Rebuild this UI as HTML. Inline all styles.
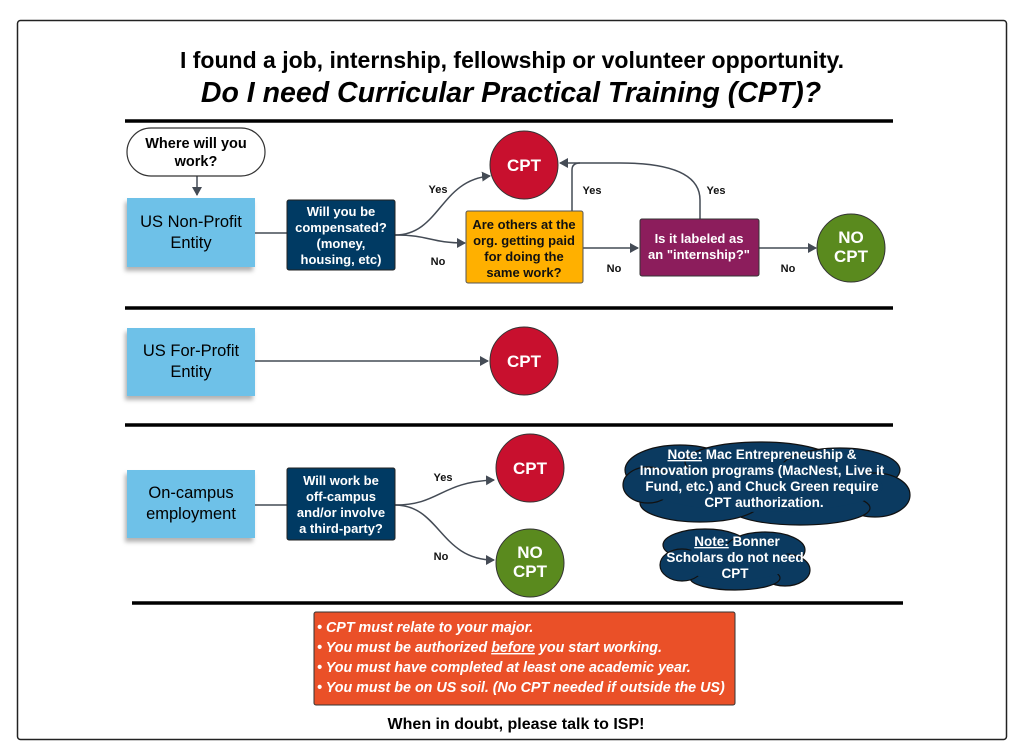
<!DOCTYPE html>
<html><head><meta charset="utf-8"><style>
body{margin:0;background:#fff;}
svg{display:block;font-family:"Liberation Sans",sans-serif;}
.w{fill:#fff;font-weight:bold;font-size:13px;text-anchor:middle;}
.b{fill:#111;font-weight:bold;font-size:11px;text-anchor:middle;}
.o{fill:#111;font-weight:bold;font-size:13px;text-anchor:middle;}
.c{fill:none;stroke:#444b55;stroke-width:1.5;}
</style></head><body>
<svg width="1024" height="756" viewBox="0 0 1024 756">
<defs>
<marker id="a" markerWidth="10" markerHeight="10" refX="8" refY="5" orient="auto" markerUnits="userSpaceOnUse"><path d="M0,0 L9,5 L0,10 z" fill="#444b55"/></marker>
<filter id="s" x="-10%" y="-10%" width="130%" height="140%"><feDropShadow dx="-2" dy="4" stdDeviation="2" flood-opacity="0.3"/></filter>
</defs>
<rect x="17.5" y="20.5" width="989" height="719" rx="3" fill="#fff" stroke="#222" stroke-width="1.5"/>
<text x="512" y="68" text-anchor="middle" font-size="23" font-weight="bold">I found a job, internship, fellowship or volunteer opportunity.</text>
<text x="511" y="102" text-anchor="middle" font-size="28.5" font-weight="bold" font-style="italic">Do I need Curricular Practical Training (CPT)?</text>
<g stroke="#000" stroke-width="3.5">
<line x1="125" y1="121" x2="893" y2="121"/>
<line x1="125" y1="308" x2="893" y2="308"/>
<line x1="125" y1="425" x2="893" y2="425"/>
<line x1="132" y1="603" x2="903" y2="603"/>
</g>
<path class="c" d="M197,176 V195" marker-end="url(#a)"/>
<path class="c" d="M255,233 H287"/>
<path class="c" d="M395,235 C440,235 440,180 490,176" marker-end="url(#a)"/>
<path class="c" d="M395,235 C430,235 430,243 465,243" marker-end="url(#a)"/>
<path class="c" d="M572,211 V170 Q572,163 580,163 H620 Q700,163 700,200 V219"/>
<path class="c" d="M580,163 H560" marker-end="url(#a)"/>
<path class="c" d="M583,248 H638" marker-end="url(#a)"/>
<path class="c" d="M759,248 H816" marker-end="url(#a)"/>
<path class="c" d="M255,361 H488" marker-end="url(#a)"/>
<path class="c" d="M255,505 H287"/>
<path class="c" d="M395,505 C440,505 440,482 494,480" marker-end="url(#a)"/>
<path class="c" d="M395,505 C440,505 440,560 494,560" marker-end="url(#a)"/>
<text class="b" x="438" y="193">Yes</text>
<text class="b" x="438" y="265">No</text>
<text class="b" x="592" y="194">Yes</text>
<text class="b" x="614" y="272">No</text>
<text class="b" x="716" y="194">Yes</text>
<text class="b" x="788" y="272">No</text>
<text class="b" x="443" y="481">Yes</text>
<text class="b" x="441" y="560">No</text>
<rect x="127" y="128" width="138" height="48" rx="24" fill="#fff" stroke="#333" stroke-width="1.2"/>
<text x="196" y="148" text-anchor="middle" font-size="14.5" font-weight="bold">Where will you</text>
<text x="196" y="166" text-anchor="middle" font-size="14.5" font-weight="bold">work?</text>
<rect x="127" y="198" width="128" height="69" fill="#6ec1e8" filter="url(#s)"/>
<text x="191" y="227" text-anchor="middle" font-size="16.5">US Non-Profit</text>
<text x="191" y="248" text-anchor="middle" font-size="16.5">Entity</text>
<rect x="287" y="200" width="108" height="70" rx="2" fill="#003a63" stroke="#222"/>
<text class="w" x="341" y="216">Will you be</text>
<text class="w" x="341" y="232">compensated?</text>
<text class="w" x="341" y="248">(money,</text>
<text class="w" x="341" y="264">housing, etc)</text>
<circle cx="524" cy="165" r="34" fill="#c8102e" stroke="#333"/>
<text x="524" y="171" text-anchor="middle" fill="#fff" font-weight="bold" font-size="17">CPT</text>
<rect x="466" y="211" width="117" height="72" rx="2" fill="#ffb000" stroke="#555"/>
<text class="o" x="524" y="229">Are others at the</text>
<text class="o" x="524" y="245">org. getting paid</text>
<text class="o" x="524" y="261">for doing the</text>
<text class="o" x="524" y="277">same work?</text>
<rect x="640" y="219" width="119" height="57" rx="2" fill="#8c1d5c" stroke="#333"/>
<text class="w" x="699" y="243">Is it labeled as</text>
<text class="w" x="699" y="259">an "internship?"</text>
<circle cx="851" cy="248" r="34" fill="#5a8a1e" stroke="#333"/>
<text x="851" y="243" text-anchor="middle" fill="#fff" font-weight="bold" font-size="17">NO</text>
<text x="851" y="262" text-anchor="middle" fill="#fff" font-weight="bold" font-size="17">CPT</text>
<rect x="127" y="328" width="128" height="68" fill="#6ec1e8" filter="url(#s)"/>
<text x="191" y="356" text-anchor="middle" font-size="16.5">US For-Profit</text>
<text x="191" y="377" text-anchor="middle" font-size="16.5">Entity</text>
<circle cx="524" cy="361" r="34" fill="#c8102e" stroke="#333"/>
<text x="524" y="367" text-anchor="middle" fill="#fff" font-weight="bold" font-size="17">CPT</text>
<rect x="127" y="470" width="128" height="68" fill="#6ec1e8" filter="url(#s)"/>
<text x="191" y="498" text-anchor="middle" font-size="16.5">On-campus</text>
<text x="191" y="519" text-anchor="middle" font-size="16.5">employment</text>
<rect x="287" y="468" width="108" height="72" rx="2" fill="#003a63" stroke="#222"/>
<text class="w" x="341" y="485">Will work be</text>
<text class="w" x="341" y="501">off-campus</text>
<text class="w" x="341" y="517">and/or involve</text>
<text class="w" x="341" y="533">a third-party?</text>
<circle cx="530" cy="468" r="34" fill="#c8102e" stroke="#333"/>
<text x="530" y="474" text-anchor="middle" fill="#fff" font-weight="bold" font-size="17">CPT</text>
<circle cx="530" cy="563" r="34" fill="#5a8a1e" stroke="#333"/>
<text x="530" y="558" text-anchor="middle" fill="#fff" font-weight="bold" font-size="17">NO</text>
<text x="530" y="577" text-anchor="middle" fill="#fff" font-weight="bold" font-size="17">CPT</text>
<g fill="#0b3a60" stroke="#111" stroke-width="1.2">
<ellipse cx="680" cy="470" rx="55" ry="25"/>
<ellipse cx="760" cy="462" rx="75" ry="20"/>
<ellipse cx="840" cy="470" rx="60" ry="22"/>
<ellipse cx="875" cy="495" rx="35" ry="22"/>
<ellipse cx="800" cy="508" rx="70" ry="17"/>
<ellipse cx="700" cy="503" rx="60" ry="19"/>
<ellipse cx="648" cy="485" rx="25" ry="18"/>
<ellipse cx="705" cy="545" rx="42" ry="16"/>
<ellipse cx="765" cy="550" rx="40" ry="18"/>
<ellipse cx="785" cy="570" rx="25" ry="16"/>
<ellipse cx="735" cy="578" rx="45" ry="12"/>
<ellipse cx="682" cy="565" rx="22" ry="16"/>
</g>
<g fill="#0b3a60">
<ellipse cx="765" cy="487" rx="118" ry="25"/>
<ellipse cx="735" cy="562" rx="58" ry="18"/>
</g>
<g class="w" font-size="13.5" style="font-size:13.5px">
<text x="762" y="459"><tspan text-decoration="underline">Note:</tspan> Mac Entrepreneuship &amp;</text>
<text x="762" y="475">Innovation programs (MacNest, Live it</text>
<text x="762" y="491">Fund, etc.) and Chuck Green require</text>
<text x="764" y="507">CPT authorization.</text>
<text x="737" y="546"><tspan text-decoration="underline">Note:</tspan> Bonner</text>
<text x="735" y="562">Scholars do not need</text>
<text x="735" y="578">CPT</text>
</g>
<rect x="314" y="612" width="421" height="93" rx="2" fill="#ea5028" stroke="#333"/>
<g fill="#fff" font-weight="bold" font-style="italic" font-size="14.3">
<text x="317" y="632">• CPT must relate to your major.</text>
<text x="317" y="652">• You must be authorized <tspan text-decoration="underline">before</tspan> you start working.</text>
<text x="317" y="672">• You must have completed at least one academic year.</text>
<text x="317" y="692">• You must be on US soil. (No CPT needed if outside the US)</text>
</g>
<text x="516" y="729" text-anchor="middle" font-size="16" font-weight="bold">When in doubt, please talk to ISP!</text>
</svg>
</body></html>
